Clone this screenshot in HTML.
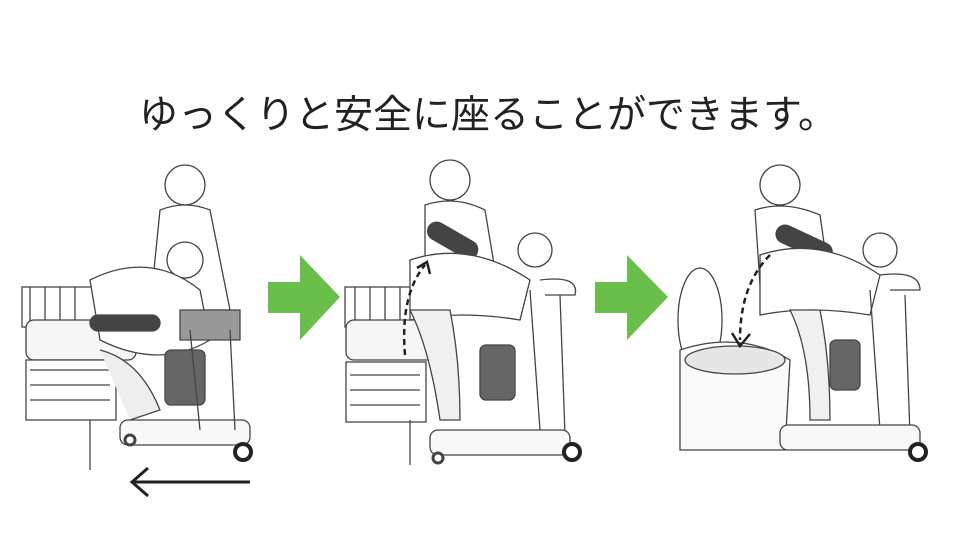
<!DOCTYPE html>
<html><head><meta charset="utf-8"><style>
body{margin:0;background:#fff;width:960px;height:540px;overflow:hidden}
.t{position:absolute;left:8px;width:960px;top:84px;text-align:center;font-family:"Liberation Sans","Noto Sans CJK JP",sans-serif;font-size:39px;color:#222;letter-spacing:0px}
svg{position:absolute;left:0;top:0}
</style></head><body>
<div class="t">ゆっくりと安全に座ることができます。</div>
<svg width="960" height="540" viewBox="0 0 960 540" fill="none" stroke="#444" stroke-width="1.3">
<polygon points="268,282 300,282 300,255 340,297 300,340 300,313 268,313" fill="#6abf4b" stroke="none"/>
<polygon points="595,282 627,282 627,255 668,297 627,340 627,313 595,313" fill="#6abf4b" stroke="none"/>
<line x1="132" y1="482" x2="250" y2="482" stroke="#222" stroke-width="3"/>
<polyline points="148,468 132,482 148,496" stroke="#222" stroke-width="3"/>
<g>
<rect x="22" y="287" width="100" height="40" fill="#fff"/>
<path d="M30,287v40M45,287v40M60,287v40M75,287v40"/>
<rect x="26" y="320" width="110" height="40" rx="8" fill="#f6f6f6"/>
<rect x="26" y="360" width="90" height="60" fill="#fff"/>
<path d="M30,370h80M30,385h80M30,400h80M90,420v50"/>
<circle cx="185" cy="185" r="20" fill="#fff"/>
<path d="M160,210 q25,-10 50,0 l20,100 h-80z" fill="#fff"/>
<circle cx="185" cy="260" r="18" fill="#fff"/>
<path d="M90,280 q60,-30 110,10 l10,50 q-50,30 -110,0z" fill="#fff"/>
<rect x="90" y="315" width="70" height="16" rx="8" fill="#444"/>
<rect x="165" y="350" width="40" height="55" rx="6" fill="#666"/>
<path d="M180,310 h60 v30 h-60z" fill="#999"/>
<path d="M100,350 q40,10 60,60 l-30,10" fill="#eee"/>
<rect x="120" y="420" width="130" height="25" rx="8" fill="#f8f8f8"/>
<path d="M190,330 l10,100 M230,330 l5,100"/>
<circle cx="243" cy="452" r="8" fill="#fff" stroke="#222" stroke-width="4"/>
<circle cx="130" cy="440" r="5" fill="#fff" stroke-width="3"/>
</g>
<g>
<rect x="345" y="287" width="70" height="40" fill="#fff"/>
<path d="M355,287v40M370,287v40M385,287v40M400,287v40"/>
<rect x="346" y="320" width="90" height="40" rx="8" fill="#f6f6f6"/>
<rect x="346" y="362" width="80" height="60" fill="#fff"/>
<path d="M350,375h70M350,390h70M350,405h70M410,420v45"/>
<circle cx="450" cy="180" r="20" fill="#fff"/>
<path d="M425,205 q30,-10 60,5 l10,60 h-70z" fill="#fff"/>
<circle cx="535" cy="250" r="17" fill="#fff"/>
<rect x="425" y="230" width="55" height="18" rx="9" fill="#444" transform="rotate(30 450 240)"/>
<path d="M410,260 q60,-20 120,20 l-10,40 q-60,-10 -110,0z" fill="#fff"/>
<path d="M410,310 q20,40 30,110 h20 q0,-60 -10,-110z" fill="#f0f0f0"/>
<rect x="480" y="345" width="35" height="55" rx="6" fill="#666"/>
<path d="M540,280 q40,-5 35,15 h-30"/>
<path d="M530,290 l10,140 M560,295 l5,140"/>
<rect x="430" y="430" width="140" height="25" rx="8" fill="#f8f8f8"/>
<circle cx="572" cy="452" r="8" fill="#fff" stroke="#222" stroke-width="4"/>
<circle cx="438" cy="458" r="5" fill="#fff" stroke-width="3"/>
<path d="M405,355 q-5,-60 20,-90" stroke="#222" stroke-width="2.5" stroke-dasharray="6,4"/>
<polyline points="417,268 427,262 430,274" stroke="#222" stroke-width="2.5"/>
</g>
<g>
<ellipse cx="700" cy="320" rx="22" ry="52" fill="#fff"/>
<path d="M680,350 q60,-20 110,10 l-5,90 h-105z" fill="#fafafa"/>
<ellipse cx="735" cy="360" rx="50" ry="14" fill="#e6e6e6"/>
<circle cx="780" cy="185" r="20" fill="#fff"/>
<path d="M755,210 q30,-10 65,5 l10,70 h-70z" fill="#fff"/>
<circle cx="880" cy="250" r="17" fill="#fff"/>
<rect x="775" y="232" width="60" height="18" rx="9" fill="#444" transform="rotate(25 800 240)"/>
<path d="M760,255 q60,-20 120,20 l-10,40 q-60,-10 -110,0z" fill="#fff"/>
<path d="M790,310 q20,40 20,110 h20 q0,-60 -10,-110z" fill="#f0f0f0"/>
<rect x="830" y="340" width="30" height="50" rx="6" fill="#666"/>
<path d="M880,275 q40,-5 40,15 h-30"/>
<path d="M870,290 l10,140 M905,295 l5,140"/>
<rect x="780" y="425" width="140" height="25" rx="8" fill="#f8f8f8"/>
<circle cx="918" cy="452" r="8" fill="#fff" stroke="#222" stroke-width="4"/>
<path d="M770,255 q-30,30 -30,85" stroke="#222" stroke-width="2.5" stroke-dasharray="6,4"/>
<polyline points="732,333 740,346 750,334" stroke="#222" stroke-width="2.5"/>
</g>
</svg>
</body></html>
